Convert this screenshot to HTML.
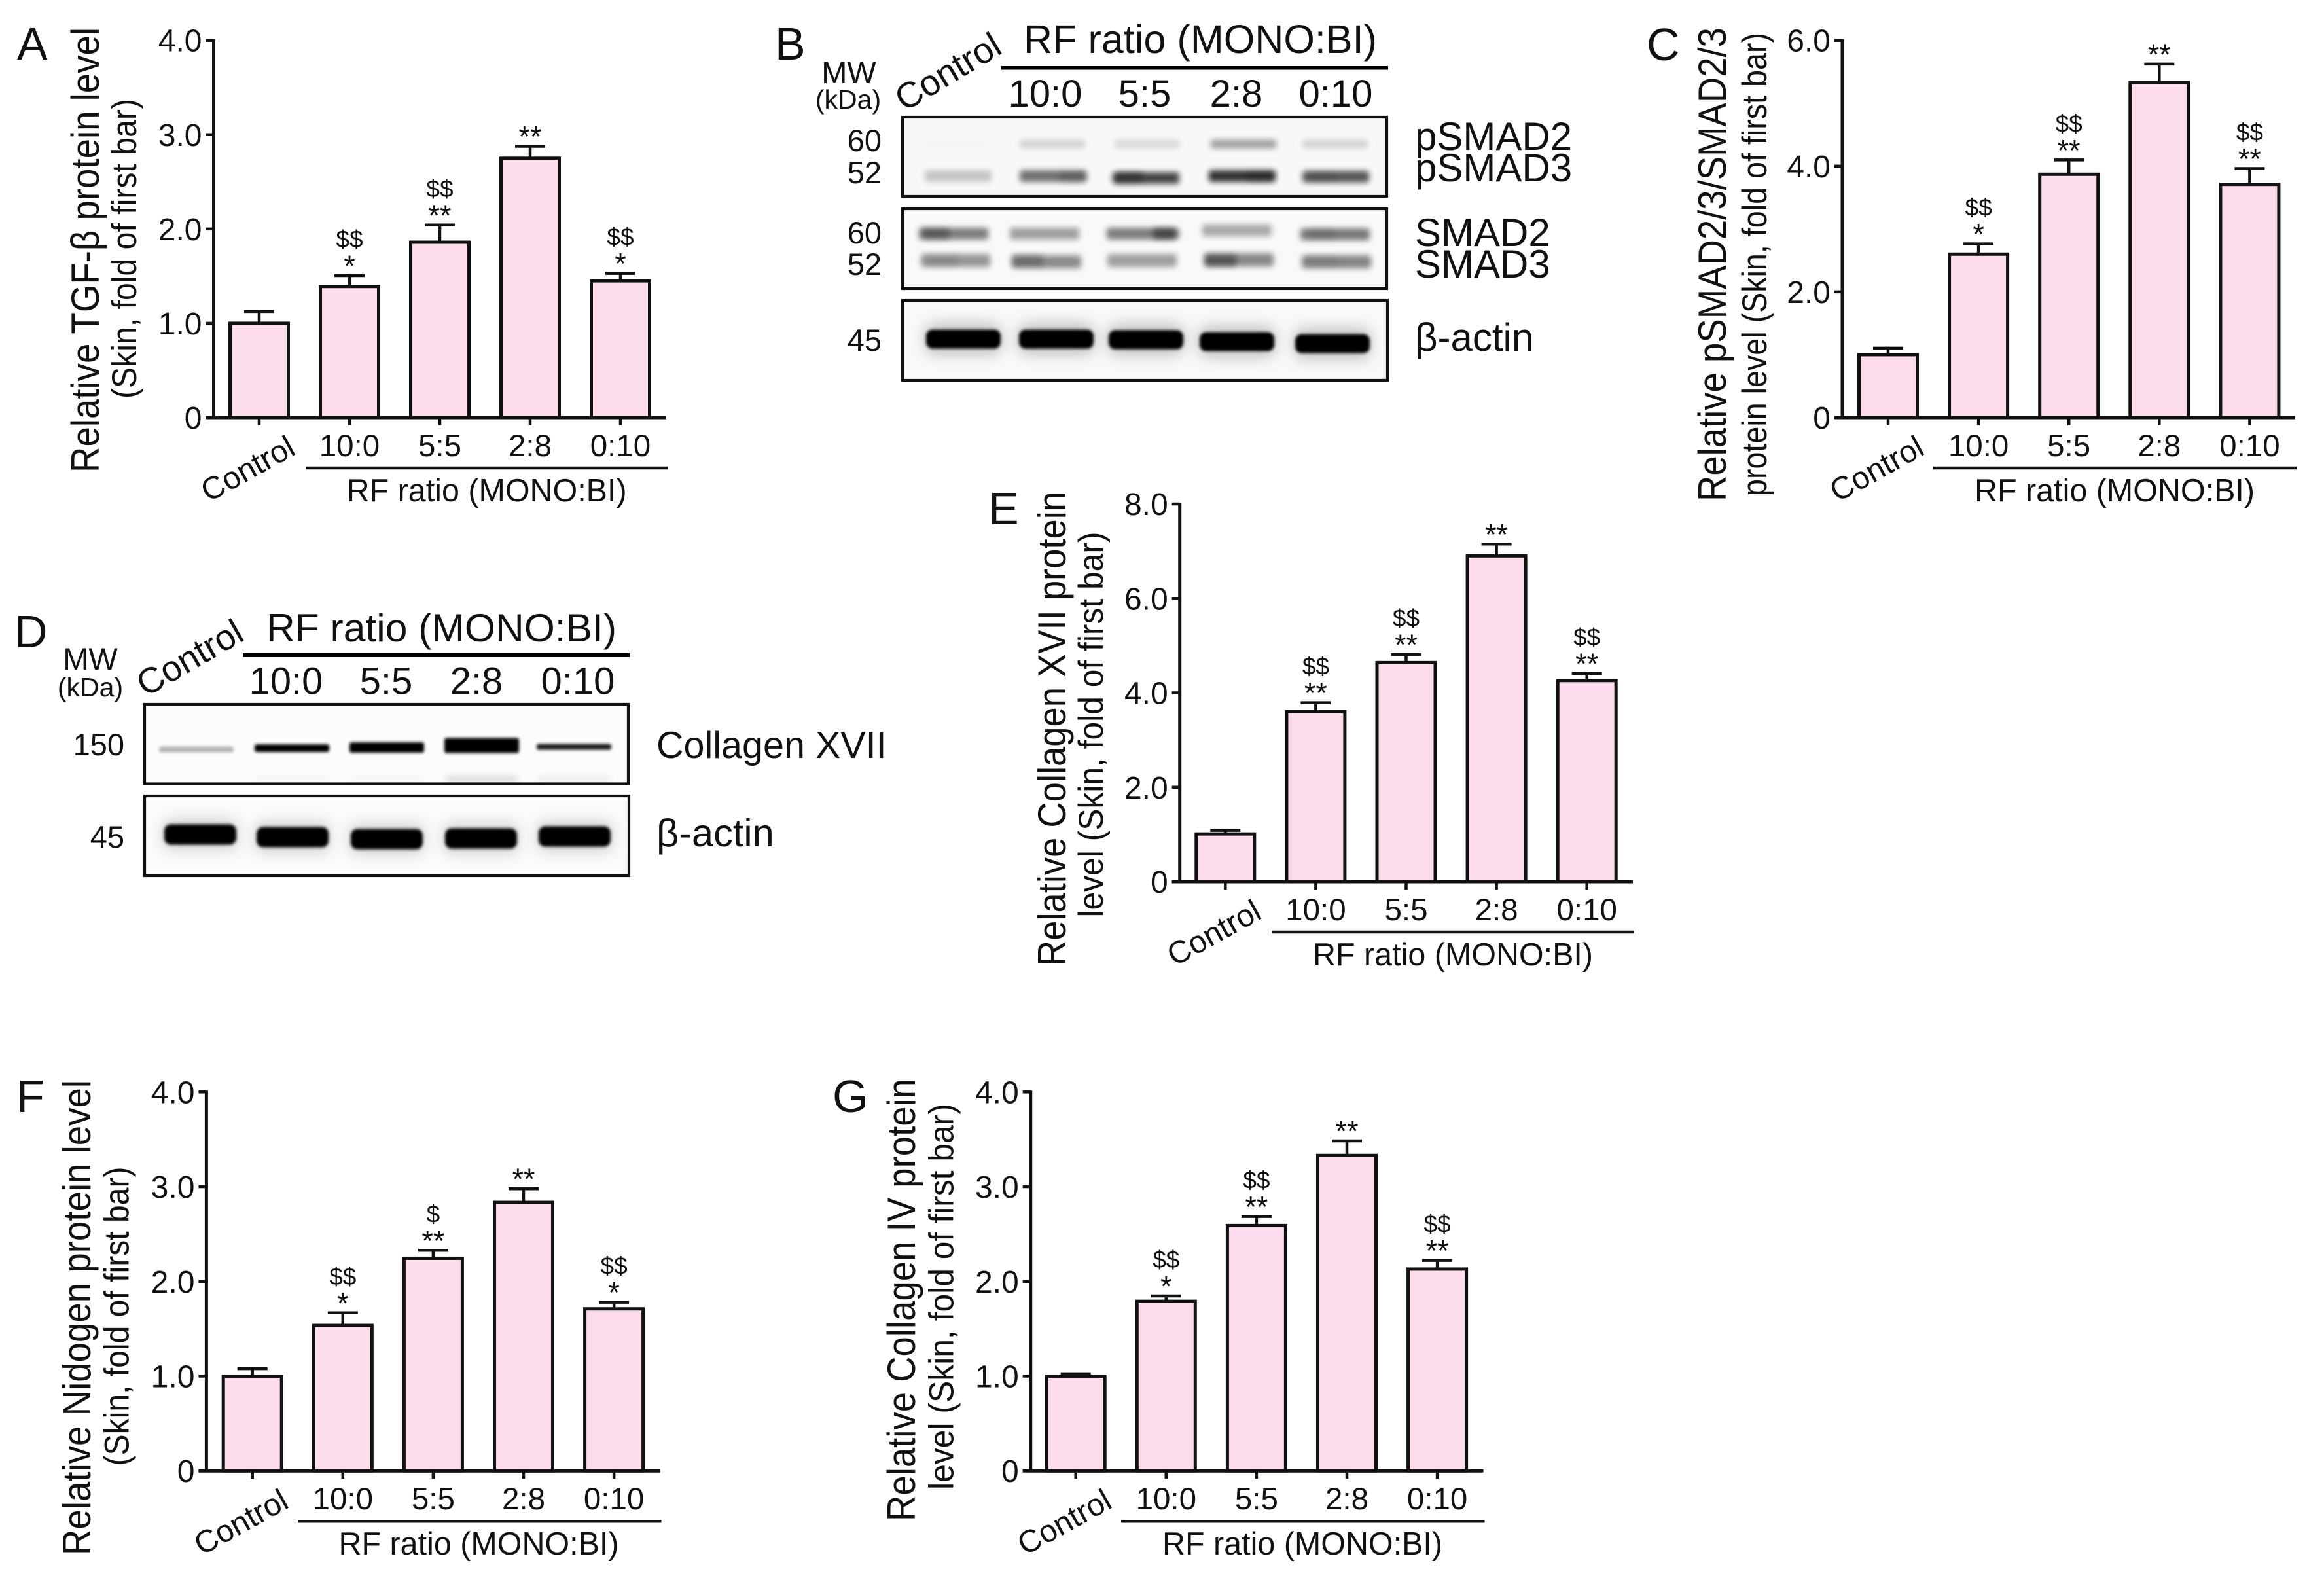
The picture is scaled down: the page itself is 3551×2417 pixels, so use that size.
<!DOCTYPE html>
<html lang="en">
<head>
<meta charset="utf-8">
<title>RF ratio western blot and bar chart figure</title>
<style>
html,body{margin:0;padding:0;background:#fff}
svg{display:block}
text{font-family:"Liberation Sans",Arial,sans-serif;fill:#111}
</style>
</head>
<body>
<svg id="figure" xmlns="http://www.w3.org/2000/svg" width="3551" height="2417" viewBox="0 0 3551 2417">
<defs>
<filter id="blur2" x="-50%" y="-200%" width="200%" height="500%"><feGaussianBlur stdDeviation="2.5"/></filter>
<filter id="blur4" x="-50%" y="-200%" width="200%" height="500%"><feGaussianBlur stdDeviation="4.5"/></filter>
<filter id="blur12" x="-50%" y="-200%" width="200%" height="500%"><feGaussianBlur stdDeviation="12"/></filter>
</defs>
<rect width="3551" height="2417" fill="#fff"/>

<g id="panel-labels" font-size="70">
<text x="26" y="91">A</text>
<text x="1184" y="91">B</text>
<text x="2516" y="92">C</text>
<text x="22" y="989">D</text>
<text x="1510" y="801">E</text>
<text x="25" y="1699">F</text>
<text x="1272" y="1699">G</text>
</g>

<g id="blot-b">
<text font-size="55" text-anchor="end" transform="translate(1534 80) rotate(-31)">Control</text>
<text font-size="61" text-anchor="middle" x="1834" y="81" textLength="540">RF ratio (MONO:BI)</text>
<rect x="1530" y="101" width="591" height="5.5" fill="#000"/>
<text font-size="58" text-anchor="middle" x="1597" y="163">10:0</text>
<text font-size="58" text-anchor="middle" x="1749" y="163">5:5</text>
<text font-size="58" text-anchor="middle" x="1889" y="163">2:8</text>
<text font-size="58" text-anchor="middle" x="2041" y="163">0:10</text>
<text font-size="47" text-anchor="middle" x="1297" y="127">MW</text>
<text font-size="41" text-anchor="middle" x="1296" y="166">(kDa)</text>
<g font-size="47" text-anchor="end">
<text x="1347" y="231">60</text>
<text x="1347" y="280">52</text>
<text x="1347" y="372">60</text>
<text x="1347" y="420">52</text>
<text x="1347" y="536">45</text>
</g>
<g font-size="60">
<text x="2162" y="229">pSMAD2</text>
<text x="2162" y="277">pSMAD3</text>
<text x="2162" y="376">SMAD2</text>
<text x="2162" y="424">SMAD3</text>
<text x="2162" y="536">β-actin</text>
</g>
</g>

<g id="blot-d">
<text font-size="55" text-anchor="end" transform="translate(376 977) rotate(-30)">Control</text>
<text font-size="60.5" text-anchor="middle" x="674.5" y="980" textLength="535">RF ratio (MONO:BI)</text>
<rect x="371" y="998" width="591" height="6" fill="#000"/>
<text font-size="58" text-anchor="middle" x="437" y="1060.5">10:0</text>
<text font-size="58" text-anchor="middle" x="590" y="1060.5">5:5</text>
<text font-size="58" text-anchor="middle" x="728" y="1060.5">2:8</text>
<text font-size="58" text-anchor="middle" x="883" y="1060.5">0:10</text>
<text font-size="47" text-anchor="middle" x="138" y="1023">MW</text>
<text font-size="41" text-anchor="middle" x="138" y="1064">(kDa)</text>
<text font-size="47" text-anchor="end" x="190" y="1154">150</text>
<text font-size="47" text-anchor="end" x="190" y="1295">45</text>
<text font-size="57.5" x="1003" y="1158">Collagen XVII</text>
<text font-size="59.5" x="1003" y="1293">β-actin</text>
</g>

<g id="charts"></g>
</svg>

<script>
// ---- Chart data ----
const categories = ['Control', '10:0', '5:5', '2:8', '0:10'];
const groupLabel = 'RF ratio (MONO:BI)';

const valuesA = [1.0, 1.39, 1.86, 2.75, 1.45];
const errorsA = [0.125, 0.116, 0.182, 0.127, 0.08];
const starsA = ['', '*', '**', '**', '*'];
const dollarsA = ['', '$$', '$$', '', '$$'];
const tickValuesA = [0, 1, 2, 3, 4];
const tickLabelsA = ['0', '1.0', '2.0', '3.0', '4.0'];

const valuesC = [1.0, 2.6, 3.87, 5.33, 3.71];
const errorsC = [0.105, 0.163, 0.228, 0.294, 0.251];
const starsC = ['', '*', '**', '**', '**'];
const dollarsC = ['', '$$', '$$', '', '$$'];
const tickValuesC = [0, 2, 4, 6];
const tickLabelsC = ['0', '2.0', '4.0', '6.0'];

const valuesE = [1.01, 3.6, 4.64, 6.9, 4.26];
const errorsE = [0.076, 0.19, 0.17, 0.25, 0.15];
const starsE = ['', '**', '**', '**', '**'];
const dollarsE = ['', '$$', '$$', '', '$$'];
const tickValuesE = [0, 2, 4, 6, 8];
const tickLabelsE = ['0', '2.0', '4.0', '6.0', '8.0'];

const valuesF = [1.0, 1.535, 2.244, 2.834, 1.71];
const errorsF = [0.078, 0.133, 0.084, 0.144, 0.07];
const starsF = ['', '*', '**', '**', '*'];
const dollarsF = ['', '$$', '$', '', '$$'];
const tickValuesF = [0, 1, 2, 3, 4];
const tickLabelsF = ['0', '1.0', '2.0', '3.0', '4.0'];

const valuesG = [1.0, 1.79, 2.59, 3.33, 2.13];
const errorsG = [0.025, 0.056, 0.095, 0.154, 0.092];
const starsG = ['', '*', '**', '**', '**'];
const dollarsG = ['', '$$', '$$', '', '$$'];
const tickValuesG = [0, 1, 2, 3, 4];
const tickLabelsG = ['0', '1.0', '2.0', '3.0', '4.0'];

// ---- Blot band intensities (lane order: control, 10:0, 5:5, 2:8, 0:10) ----
const bandsPsmad2 = [0.01, 0.15, 0.12, 0.36, 0.15];
const bandsPsmad3 = [0.2, 0.55, 0.72, 0.8, 0.65];
const spotsPsmad3 = [0, 0.15, 0.28, 0.16, 0.08];
const bandsSmad2 = [0.5, 0.36, 0.5, 0.32, 0.52];
const spotsSmad2 = [0.3, 0, 0.45, 0, 0.08];
const bandsSmad3 = [0.4, 0.44, 0.36, 0.46, 0.47];
const spotsSmad3 = [0.08, 0.22, 0, 0.38, 0.05];
const bandsActinB = [1, 1, 1, 1, 1];
const haloActinB = [0.25, 0.25, 0.25, 0.25, 0.25];
const bandsCollagen = [0.28, 1, 1, 1, 0.9];
const smearCollagen = [0, 0.03, 0.03, 0.14, 0.07];
const bandsActinD = [1, 1, 1, 1, 1];
const haloActinD = [0.18, 0.18, 0.18, 0.18, 0.18];

const SVGNS = 'http://www.w3.org/2000/svg';
const chartRoot = document.getElementById('charts');

function mk(tag, parent, attrs) {
  const el = document.createElementNS(SVGNS, tag);
  for (const k in attrs) el.setAttribute(k, attrs[k]);
  parent.appendChild(el);
  return el;
}

const INK = '#111';
const PINK = '#fddcee';

function drawChart(id, L, values, errors, stars, dollars, tickValues, tickLabels) {
  const g = mk('g', chartRoot, {});
  
  

  const maxTick = tickValues[tickValues.length - 1];
  const yScale = v => L.base - (v / maxTick) * (L.base - L.top);
  const xScale = i => L.x0 + i * L.pitch;

  // bars and error bars
  values.forEach((v, i) => {
    const cx = xScale(i);
    const capY = yScale(v + errors[i]);
    const stem = mk('line', g, {x1: cx, x2: cx, y1: yScale(v), y2: capY, stroke: INK, 'stroke-width': 4.5});
    
    
    const cap = mk('line', g, {x1: cx - 23, x2: cx + 23, y1: capY, y2: capY, stroke: INK, 'stroke-width': 4.5});
    
    
    const bar = mk('rect', g, {x: cx - 44.5, y: yScale(v), width: 89, height: L.base - yScale(v), fill: PINK, stroke: INK, 'stroke-width': 5});
    
    
    if (stars[i]) {
      const star = mk('text', g, {x: cx, y: capY + 1, 'text-anchor': 'middle', 'font-size': 45});
      
      
      star.textContent = stars[i];
    }
    if (dollars[i]) {
      const dollar = mk('text', g, {x: cx, y: capY - 43, 'text-anchor': 'middle', 'font-size': 37});
      
      
      dollar.textContent = dollars[i];
    }
  });

  // y axis
  const yAxis = mk('line', g, {x1: L.axisX, x2: L.axisX, y1: L.top - 2, y2: L.base, stroke: INK, 'stroke-width': 5});
  
  
  tickValues.forEach((t, i) => {
    const y = yScale(t);
    const tick = mk('line', g, {x1: L.axisX - 12, x2: L.axisX, y1: y, y2: y, stroke: INK, 'stroke-width': 4.5});
    
    
    const lab = mk('text', g, {x: L.axisX - 18, y: y + 17, 'text-anchor': 'end', 'font-size': 48});
    
    
    lab.textContent = tickLabels[i];
  });

  // x axis
  const xAxis = mk('line', g, {x1: L.axisX - 12, x2: L.xEnd, y1: L.base, y2: L.base, stroke: INK, 'stroke-width': 5});
  
  
  categories.forEach((c, i) => {
    const cx = xScale(i);
    const tick = mk('line', g, {x1: cx, x2: cx, y1: L.base, y2: L.base + 12, stroke: INK, 'stroke-width': 4.5});
    
    
    if (i === 0) {
      const lab = mk('text', g, {'text-anchor': 'end', 'font-size': 48, transform: 'translate(' + (cx + 58) + ' ' + (L.base + 55) + ') rotate(-29)'});
      
      
      lab.textContent = c;
    } else {
      const lab = mk('text', g, {x: cx, y: L.base + 59, 'text-anchor': 'middle', 'font-size': 47.5});
      
      
      lab.textContent = c;
    }
  });

  // group bracket and label
  const bracket = mk('line', g, {x1: L.brX1, x2: L.xEnd + 2, y1: L.base + 77, y2: L.base + 77, stroke: INK, 'stroke-width': 4.5});
  
  
  const group = mk('text', g, {x: L.groupX, y: L.base + 128, 'text-anchor': 'middle', 'font-size': 49, textLength: 428, lengthAdjust: 'spacingAndGlyphs'});
  
  
  group.textContent = groupLabel;

  // y axis title (two lines)
  const t1 = mk('text', g, {'text-anchor': 'middle', 'font-size': 60, textLength: L.t1.len, lengthAdjust: 'spacingAndGlyphs', transform: 'translate(' + L.t1.x + ' ' + L.t1.c + ') rotate(-90)'});
  
  
  t1.textContent = L.t1.text;
  const t2 = mk('text', g, {'text-anchor': 'middle', 'font-size': 53, textLength: L.t2.len, lengthAdjust: 'spacingAndGlyphs', transform: 'translate(' + L.t2.x + ' ' + L.t2.c + ') rotate(-90)'});
  
  
  t2.textContent = L.t2.text;
}

drawChart('a', {axisX: 326.5, top: 61.7, base: 638, x0: 396, pitch: 138, xEnd: 1018, brX1: 467, groupX: 743.6,
  t1: {text: 'Relative TGF-β protein level', x: 151, c: 382, len: 680},
  t2: {text: '(Skin, fold of first bar)', x: 208, c: 380, len: 458}},
  valuesA, errorsA, starsA, dollarsA, tickValuesA, tickLabelsA);

drawChart('c', {axisX: 2815, top: 61.7, base: 638, x0: 2885, pitch: 138.1, xEnd: 3507, brX1: 2954, groupX: 3231,
  t1: {text: 'Relative pSMAD2/3/SMAD2/3', x: 2637, c: 404, len: 724},
  t2: {text: 'protein level (Skin, fold of first bar)', x: 2699, c: 404, len: 708}},
  valuesC, errorsC, starsC, dollarsC, tickValuesC, tickLabelsC);

drawChart('e', {axisX: 1802.7, top: 770, base: 1347, x0: 1872.3, pitch: 138.1, xEnd: 2495, brX1: 1943, groupX: 2220,
  t1: {text: 'Relative Collagen XVII protein', x: 1628, c: 1113.5, len: 725},
  t2: {text: 'level (Skin, fold of first bar)', x: 1685, c: 1107, len: 589}},
  valuesE, errorsE, starsE, dollarsE, tickValuesE, tickLabelsE);

drawChart('f', {axisX: 315.4, top: 1668.3, base: 2247.2, x0: 385.7, pitch: 138.1, xEnd: 1008.5, brX1: 455, groupX: 731.5,
  t1: {text: 'Relative Nidogen protein level', x: 138, c: 2013, len: 726},
  t2: {text: '(Skin, fold of first bar)', x: 196.5, c: 2011, len: 457}},
  valuesF, errorsF, starsF, dollarsF, tickValuesF, tickLabelsF);

drawChart('g', {axisX: 1574.7, top: 1668.3, base: 2247.2, x0: 1643.7, pitch: 138.1, xEnd: 2266.5, brX1: 1713, groupX: 1990,
  t1: {text: 'Relative Collagen IV protein', x: 1398, c: 1986, len: 676},
  t2: {text: 'level (Skin, fold of first bar)', x: 1456.5, c: 1981, len: 590}},
  valuesG, errorsG, starsG, dollarsG, tickValuesG, tickLabelsG);

// ---- Blots ----
function drawMembrane(parentId, name, box, rows, bg) {
  const parent = document.getElementById(parentId);
  const g = mk('g', parent, {});
  
  
  const clipId = 'clip-' + name;
  const defs = mk('clipPath', g, {id: clipId});
  mk('rect', defs, {x: box.x, y: box.y, width: box.w, height: box.h});
  mk('rect', g, {x: box.x, y: box.y, width: box.w, height: box.h, fill: bg});
  const inner = mk('g', g, {'clip-path': 'url(#' + clipId + ')'});
  rows.forEach((r, ri) => {
    r.values.forEach((v, i) => {
      if (!v) return;
      const cx = r.lanes[i];
      const dy = r.dy ? r.dy[i] : 0;
      const h = r.hs ? r.hs[i] : r.h;
      const band = mk('rect', inner, {x: cx - r.w / 2, y: r.y + dy - h / 2, width: r.w, height: h, rx: r.rx, fill: '#000', opacity: v, filter: 'url(#' + r.f + ')'});
      
      
    });
  });
  const frame = mk('rect', g, {x: box.x + 2, y: box.y + 2, width: box.w - 4, height: box.h - 4, fill: 'none', stroke: '#111', 'stroke-width': 4.2});
  
  
}

drawMembrane('blot-b', 'membrane-psmad', {x: 1377, y: 177, w: 744, h: 125}, [
  {values: bandsPsmad2, lanes: [1461, 1608, 1753, 1900, 2040], y: 220, h: 13, w: 100, rx: 3, f: 'blur4'},
  {values: bandsPsmad3, lanes: [1464, 1609, 1751, 1898, 2041], y: 269, h: 18, w: 102, rx: 4, f: 'blur4', dy: [0, 0, 3, 0, 1]},
  {values: spotsPsmad3, lanes: [1464, 1640, 1725, 1925, 2020], y: 270, h: 15, w: 42, rx: 4, f: 'blur4'}
], '#f8f8f8');
drawMembrane('blot-b', 'membrane-smad', {x: 1377, y: 317, w: 744, h: 126}, [
  {values: bandsSmad2, lanes: [1457, 1596, 1744, 1890, 2040], y: 357, h: 18, w: 106, rx: 4, f: 'blur4', dy: [0, 0, 0, -5, 1]},
  {values: spotsSmad2, lanes: [1430, 1596, 1782, 1890, 2020], y: 357, h: 16, w: 40, rx: 4, f: 'blur4'},
  {values: bandsSmad3, lanes: [1460, 1599, 1745, 1893, 2042], y: 398, h: 20, w: 106, rx: 4, f: 'blur4', dy: [0, 2, 0, -1, 2]},
  {values: spotsSmad3, lanes: [1440, 1570, 1745, 1865, 2020], y: 398, h: 18, w: 48, rx: 4, f: 'blur4'}
], '#f9f9f9');
drawMembrane('blot-b', 'membrane-actin-b', {x: 1377, y: 457, w: 745, h: 126}, [
  {values: haloActinB, lanes: [1472, 1614, 1751, 1890, 2036], y: 518, h: 44, w: 114, rx: 10, f: 'blur12', dy: [0, 0, 1, 4, 7]},
  {values: bandsActinB, lanes: [1472, 1614, 1751, 1890, 2036], y: 518, h: 29, w: 114, rx: 10, f: 'blur2', dy: [0, 0, 1, 4, 7]}
], '#f9f9f9');

drawMembrane('blot-d', 'membrane-collagen', {x: 219, y: 1074, w: 743, h: 125.5}, [
  {values: bandsCollagen, lanes: [300, 446, 591, 736, 877], y: 1142, hs: [9, 12, 16, 23, 9], w: 114, rx: 3, f: 'blur2', dy: [3, 1, 0, -3, -1]},
  {values: smearCollagen, lanes: [300, 446, 591, 736, 877], y: 1190, h: 8, w: 112, rx: 3, f: 'blur4'}
], '#fcfcfc');
drawMembrane('blot-d', 'membrane-actin-d', {x: 219, y: 1214, w: 744, h: 126}, [
  {values: haloActinD, lanes: [306, 447, 591, 735, 878], y: 1279, h: 44, w: 112, rx: 10, f: 'blur12', dy: [-4, 0, 3, 2, -1]},
  {values: bandsActinD, lanes: [306, 447, 591, 735, 878], y: 1279, h: 31, w: 110, rx: 10, f: 'blur2', dy: [-4, 0, 3, 2, -1]}
], '#fbfbfb');
</script>
</body>
</html>
